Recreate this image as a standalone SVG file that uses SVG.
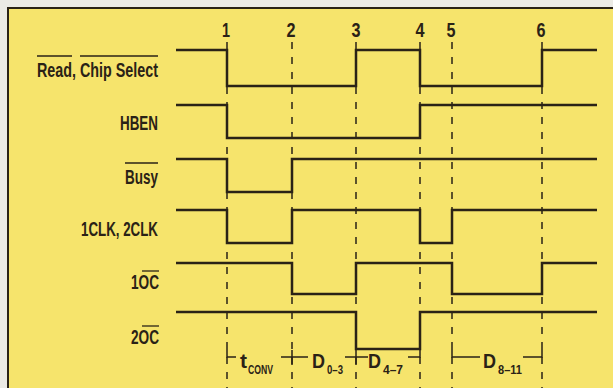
<svg xmlns="http://www.w3.org/2000/svg" width="613" height="388" viewBox="0 0 613 388">
<defs>
<style>
.lbl{font-family:"Liberation Sans",Arial,sans-serif;font-weight:bold;font-size:20px;fill:#2a2216}
.sub{font-family:"Liberation Sans",Arial,sans-serif;font-weight:bold;font-size:13px;fill:#2a2216}
.sig{fill:none;stroke:#2a2216;stroke-width:2.5;stroke-linejoin:miter}
.ovl{stroke:#2a2216;stroke-width:1.3}
.dash{stroke:#2a2216;stroke-width:1.5;stroke-dasharray:7 8}
.tick{fill:none;stroke:#2a2216;stroke-width:1.5}
</style>
</defs>
<rect x="0" y="0" width="613" height="388" fill="#ebeae5"/>
<rect x="8" y="8" width="620" height="400" fill="#f6e46c" stroke="#2a2216" stroke-width="2"/>

<g id="connectors">
<line class="dash" x1="227" y1="42" x2="227" y2="388"/>
<line class="dash" x1="292" y1="42" x2="292" y2="388"/>
<line class="dash" x1="356" y1="42" x2="356" y2="388"/>
<line class="dash" x1="420" y1="42" x2="420" y2="388"/>
<line class="dash" x1="452" y1="42" x2="452" y2="388"/>
<line class="dash" x1="542" y1="42" x2="542" y2="388"/>
</g>

<g id="markers">
<text class="lbl" x="226" y="37" text-anchor="middle" textLength="8" lengthAdjust="spacingAndGlyphs">1</text>
<text class="lbl" x="291" y="37" text-anchor="middle" textLength="9" lengthAdjust="spacingAndGlyphs">2</text>
<text class="lbl" x="356" y="37" text-anchor="middle" textLength="9" lengthAdjust="spacingAndGlyphs">3</text>
<text class="lbl" x="420" y="37" text-anchor="middle" textLength="9" lengthAdjust="spacingAndGlyphs">4</text>
<text class="lbl" x="451" y="37" text-anchor="middle" textLength="9" lengthAdjust="spacingAndGlyphs">5</text>
<text class="lbl" x="541" y="37" text-anchor="middle" textLength="9" lengthAdjust="spacingAndGlyphs">6</text>
</g>

<g id="read-cs">
<text class="lbl" x="158" y="77" text-anchor="end" textLength="121" lengthAdjust="spacingAndGlyphs">Read, Chip Select</text>
<line class="ovl" x1="37" y1="56" x2="72" y2="56"/>
<line class="ovl" x1="80" y1="56" x2="158" y2="56"/>
<path class="sig" d="M176,50 H227 V86 H356 V50 H420 V86 H542 V50 H597"/>
</g>

<g id="hben">
<text class="lbl" x="158" y="130" text-anchor="end" textLength="38" lengthAdjust="spacingAndGlyphs">HBEN</text>
<path class="sig" d="M176,105 H227 V138 H420 V105 H597"/>
</g>

<g id="busy">
<text class="lbl" x="158" y="184" text-anchor="end" textLength="33" lengthAdjust="spacingAndGlyphs">Busy</text>
<line class="ovl" x1="125" y1="163" x2="158" y2="163"/>
<path class="sig" d="M176,159 H227 V192 H292 V159 H597"/>
</g>

<g id="clk">
<text class="lbl" x="158" y="236" text-anchor="end" textLength="77" lengthAdjust="spacingAndGlyphs">1CLK, 2CLK</text>
<path class="sig" d="M176,210 H227 V243 H292 V210 H420 V243 H452 V210 H597"/>
</g>

<g id="oc1">
<text class="lbl" x="159" y="289" text-anchor="end" textLength="28" lengthAdjust="spacingAndGlyphs">1OC</text>
<line class="ovl" x1="142" y1="271" x2="159" y2="271"/>
<path class="sig" d="M176,263 H292 V294 H356 V263 H452 V294 H542 V263 H597"/>
</g>

<g id="oc2">
<text class="lbl" x="159" y="344" text-anchor="end" textLength="28" lengthAdjust="spacingAndGlyphs">2OC</text>
<line class="ovl" x1="142" y1="326" x2="159" y2="326"/>
<path class="sig" d="M176,312 H356 V349 H420 V312 H597"/>
</g>

<g id="intervals">
<path class="tick" d="M227,349 V357 H236"/>
<path class="tick" d="M281,357 H308 M292,350 V365"/>
<path class="tick" d="M345,357 H368 M356,350 V365"/>
<path class="tick" d="M408,357 H420 V349"/>
<path class="tick" d="M452,349 V357 H480"/>
<path class="tick" d="M523,357 H542 V349"/>
<text class="lbl" x="240" y="368" textLength="7" lengthAdjust="spacingAndGlyphs">t</text>
<text class="sub" x="248" y="374" textLength="25" lengthAdjust="spacingAndGlyphs">CONV</text>
<text class="lbl" x="312" y="368" textLength="13" lengthAdjust="spacingAndGlyphs">D</text>
<text class="sub" x="327" y="374" textLength="16" lengthAdjust="spacingAndGlyphs">0–3</text>
<text class="lbl" x="368" y="368" textLength="13" lengthAdjust="spacingAndGlyphs">D</text>
<text class="sub" x="383" y="374" textLength="20" lengthAdjust="spacingAndGlyphs">4–7</text>
<text class="lbl" x="483" y="368" textLength="13" lengthAdjust="spacingAndGlyphs">D</text>
<text class="sub" x="498" y="374" textLength="24" lengthAdjust="spacingAndGlyphs">8–11</text>
</g>
</svg>
